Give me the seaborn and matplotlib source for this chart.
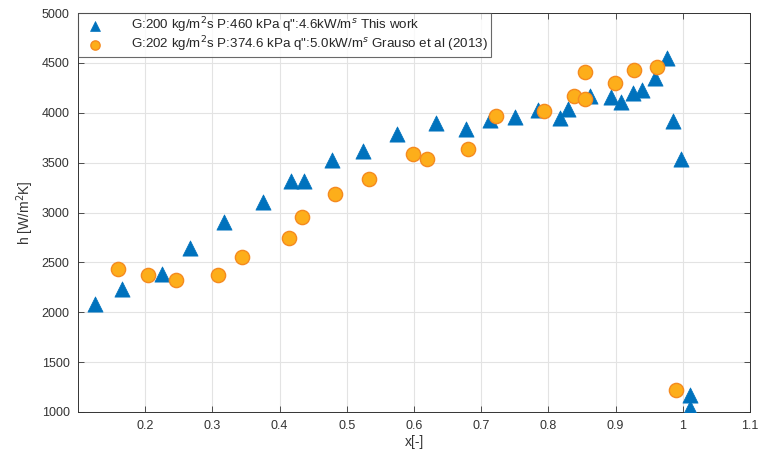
import numpy as np
import pandas as pd
import matplotlib
matplotlib.use("Agg")
import matplotlib.pyplot as plt
import seaborn as sns

# Heat transfer coefficient vs. vapour quality
x_this = [0.125, 0.166, 0.225, 0.267, 0.318, 0.375, 0.417, 0.437, 0.478, 0.524,
          0.574, 0.633, 0.678, 0.713, 0.751, 0.784, 0.817, 0.829, 0.862, 0.893,
          0.908, 0.926, 0.940, 0.959, 0.976, 0.986, 0.998, 1.011, 1.010]
h_this = [2080, 2230, 2387, 2640, 2903, 3103, 3313, 3313, 3530, 3620,
          3790, 3897, 3840, 3925, 3953, 4023, 3947, 4040, 4170, 4157,
          4103, 4197, 4230, 4353, 4547, 3920, 3540, 1170, 1045]

x_grauso = [0.159, 0.204, 0.246, 0.308, 0.344, 0.414, 0.433, 0.483, 0.533, 0.599,
            0.619, 0.680, 0.722, 0.794, 0.838, 0.855, 0.855, 0.899, 0.928, 0.962,
            0.990]
h_grauso = [2430, 2373, 2320, 2370, 2557, 2740, 2953, 3190, 3340, 3587,
            3537, 3640, 3963, 4013, 4170, 4140, 4407, 4303, 4430, 4463,
            1225]

label_this = r'G:200 kg/m$^2$s P:460 kPa q":4.6kW/m$^s$ This work'
label_grauso = r'G:202 kg/m$^2$s P:374.6 kPa q":5.0kW/m$^s$ Grauso et al (2013)'

x_ticks = [0.2, 0.3, 0.4, 0.5, 0.6, 0.7, 0.8, 0.9, 1.0, 1.1]
x_ticklabels = ["0.2", "0.3", "0.4", "0.5", "0.6", "0.7", "0.8", "0.9", "1", "1.1"]
y_ticks = [1000, 1500, 2000, 2500, 3000, 3500, 4000, 4500, 5000]

df = pd.concat([
    pd.DataFrame({"x": x_this, "h": h_this, "src": label_this}),
    pd.DataFrame({"x": x_grauso, "h": h_grauso, "src": label_grauso}),
], ignore_index=True)

sns.set_theme(style="whitegrid")
plt.rcParams["font.family"] = ["Liberation Sans", "DejaVu Sans"]

fig = plt.figure(figsize=(7.58, 4.5), dpi=100)
ax = fig.add_axes([78 / 758, 1 - 412 / 450, (750 - 78) / 758, (412 - 13) / 450])

sns.scatterplot(data=df[df.src == label_this], x="x", y="h", ax=ax,
                marker="^", s=120, color="#0072BD", edgecolor="#0072BD",
                linewidth=0.5, label=label_this, zorder=3)
sns.scatterplot(data=df[df.src == label_grauso], x="x", y="h", ax=ax,
                marker="o", s=105, color="#FDAE1A", edgecolor="#F58A1F",
                linewidth=1.0, label=label_grauso, zorder=3)

ax.set_xlim(0.1, 1.1)
ax.set_ylim(1000, 5000)
ax.set_xticks(x_ticks)
ax.set_xticklabels(x_ticklabels)
ax.set_yticks(y_ticks)
ax.set_xlabel("x[-]", fontsize=10, color="#333333", labelpad=2)
ax.set_ylabel(r"h [W/m$^2$K]", fontsize=10, color="#333333", labelpad=4)

ax.grid(True, color="#e3e3e3", linewidth=0.8)
for sp in ax.spines.values():
    sp.set_visible(True)
    sp.set_color("#333333")
    sp.set_linewidth(0.7)
ax.tick_params(axis="both", direction="in", length=4, width=0.6,
               colors="#333333", labelsize=9, top=True, right=True,
               bottom=True, left=True, pad=6)

leg = ax.legend(loc="upper left", fontsize=9.6, frameon=True, fancybox=False,
                borderaxespad=0.0, handletextpad=1.6, handlelength=2.2,
                borderpad=0.2, labelspacing=-0.05, markerscale=0.65)
leg.get_frame().set_edgecolor("#444444")
leg.get_frame().set_linewidth(0.8)

fig.savefig("out.png", dpi=100)
